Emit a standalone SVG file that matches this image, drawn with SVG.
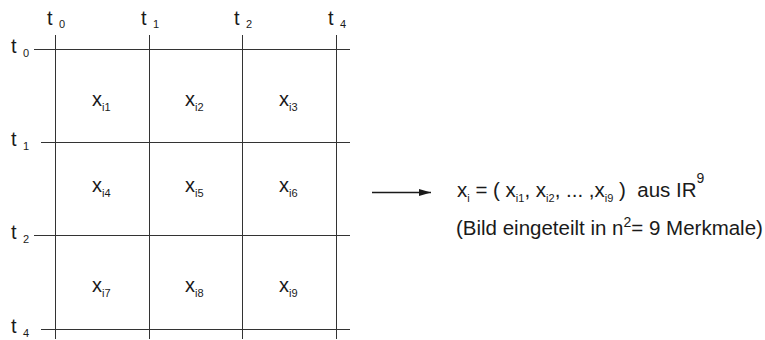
<svg xmlns="http://www.w3.org/2000/svg" width="765" height="340" viewBox="0 0 765 340">
<style>
text{font-family:"Liberation Sans",Arial,sans-serif;fill:#1a1a1a;font-size:20px}
.s{font-size:11px}
.r{font-size:20.5px}
.g{stroke:#333;stroke-width:1;fill:none}
</style>
<defs>
<marker id="ah" markerWidth="12" markerHeight="8" refX="12" refY="4" orient="auto" markerUnits="userSpaceOnUse">
<path d="M0,0.5 L12,4 L0,7.5 Z" fill="#1a1a1a"/>
</marker>
</defs>
<g id="grid">
<line class="g" x1="55.5" y1="35" x2="55.5" y2="339"/>
<line class="g" x1="149.5" y1="35" x2="149.5" y2="339"/>
<line class="g" x1="242.5" y1="35" x2="242.5" y2="339"/>
<line class="g" x1="336.5" y1="35" x2="336.5" y2="339"/>
<line class="g" x1="34" y1="49.5" x2="350" y2="49.5"/>
<line class="g" x1="41" y1="142.5" x2="350" y2="142.5"/>
<line class="g" x1="34" y1="235.5" x2="350" y2="235.5"/>
<line class="g" x1="41" y1="329.5" x2="350" y2="329.5"/>
</g>
<g id="top-labels">
<text x="47" y="25">t</text><text class="s" x="59" y="28">0</text>
<text x="141" y="25">t</text><text class="s" x="153" y="28">1</text>
<text x="234" y="25">t</text><text class="s" x="246" y="28">2</text>
<text x="328" y="25">t</text><text class="s" x="340" y="28">4</text>
</g>
<g id="left-labels">
<text x="11" y="53">t</text><text class="s" x="23" y="57">0</text>
<text x="11" y="146">t</text><text class="s" x="23" y="150">1</text>
<text x="11" y="239">t</text><text class="s" x="23" y="243">2</text>
<text x="11" y="333">t</text><text class="s" x="23" y="337">4</text>
</g>
<g id="cells">
<g id="c1"><text x="92" y="106">x<tspan class="s" dy="5">i1</tspan></text></g>
<g id="c2"><text x="185" y="106">x<tspan class="s" dy="5">i2</tspan></text></g>
<g id="c3"><text x="279" y="106">x<tspan class="s" dy="5">i3</tspan></text></g>
<g id="c4"><text x="92" y="192">x<tspan class="s" dy="5">i4</tspan></text></g>
<g id="c5"><text x="185" y="192">x<tspan class="s" dy="5">i5</tspan></text></g>
<g id="c6"><text x="279" y="192">x<tspan class="s" dy="5">i6</tspan></text></g>
<g id="c7"><text x="92" y="292">x<tspan class="s" dy="5">i7</tspan></text></g>
<g id="c8"><text x="185" y="292">x<tspan class="s" dy="5">i8</tspan></text></g>
<g id="c9"><text x="279" y="292">x<tspan class="s" dy="5">i9</tspan></text></g>
</g>
<g id="connectors">
<line x1="372" y1="192.5" x2="431" y2="192.5" stroke="#1a1a1a" stroke-width="1.4" marker-end="url(#ah)"/>
</g>
<g id="result">
<text class="r" xml:space="preserve" x="457" y="197">x<tspan class="s" font-size="10" dy="5">i</tspan><tspan dy="-5"> = ( x</tspan><tspan class="s" font-size="10" dy="5">i1</tspan><tspan dy="-5">, x</tspan><tspan class="s" font-size="10" dy="5">i2</tspan><tspan dy="-5">, ... ,x</tspan><tspan class="s" font-size="10" dy="5">i9</tspan><tspan dy="-5"> )  aus IR</tspan><tspan font-size="14" dy="-14">9</tspan></text>
<text class="r" x="456" y="235">(Bild eingeteilt in n<tspan font-size="14" dy="-8">2</tspan><tspan dy="8">= 9 Merkmale)</tspan></text>
</g>
</svg>
